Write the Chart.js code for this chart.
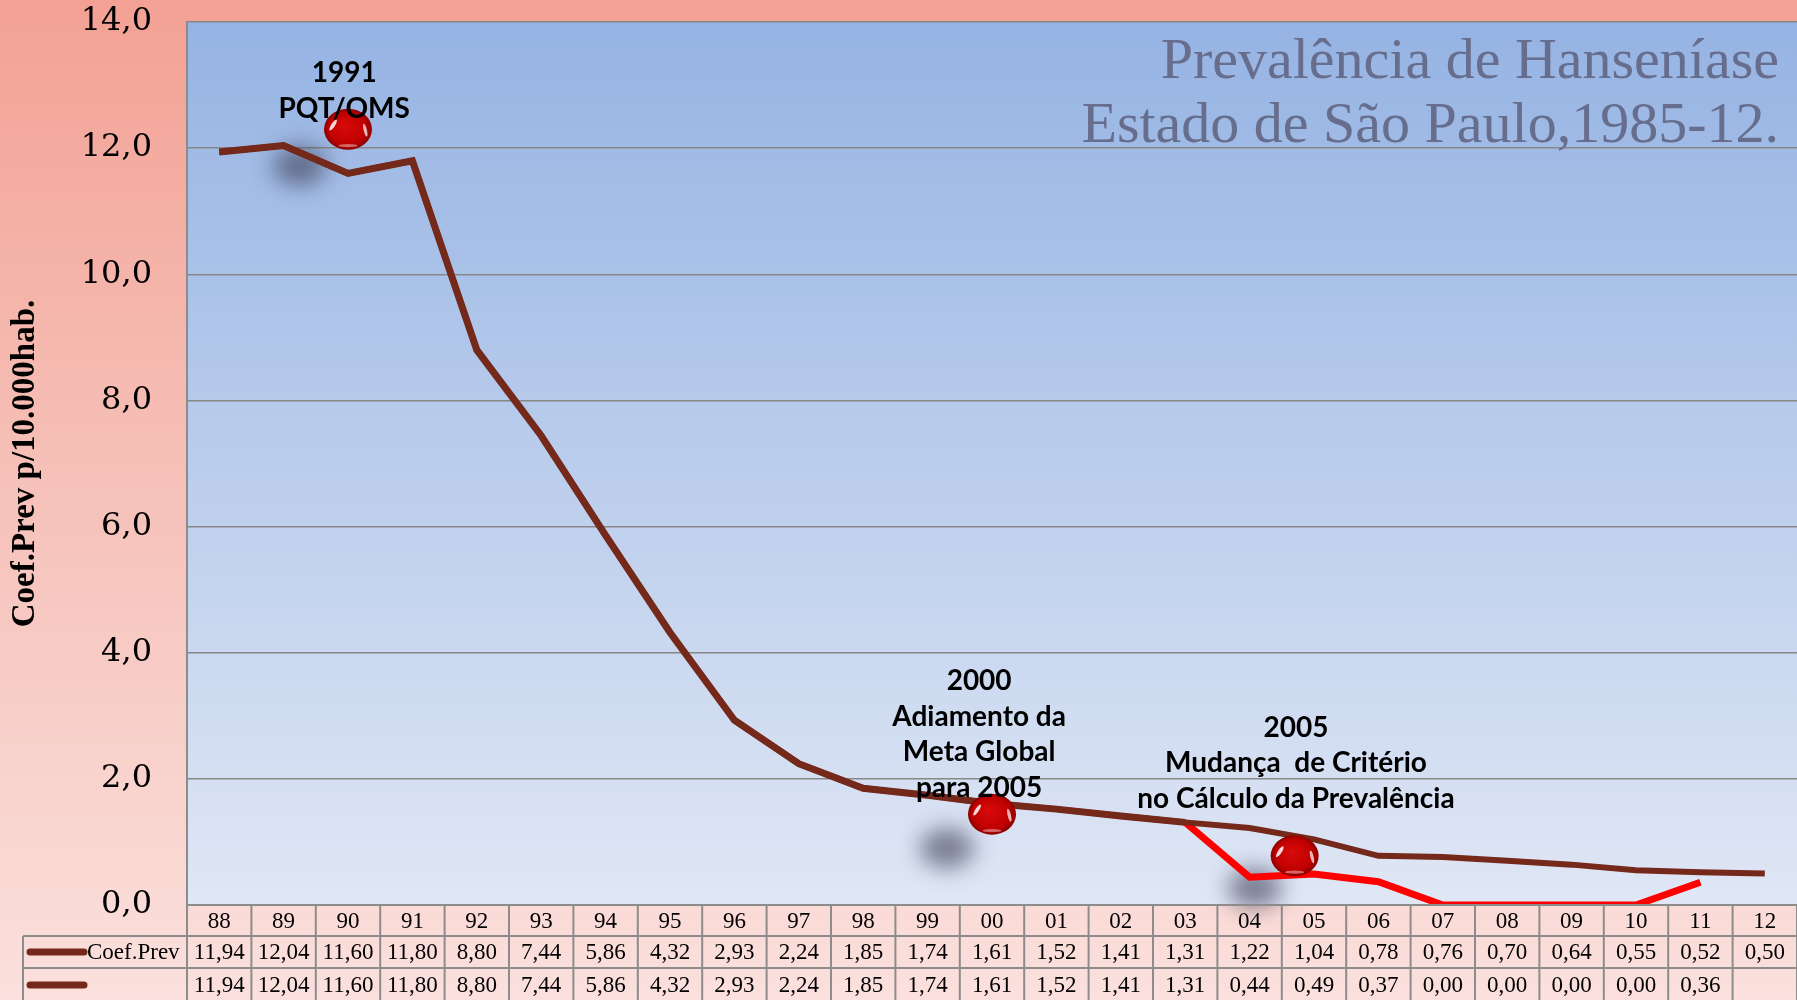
<!DOCTYPE html>
<html>
<head>
<meta charset="utf-8">
<title>Prevalência de Hanseníase – Estado de São Paulo</title>
<script src="https://cdn.jsdelivr.net/npm/chart.js@4.4.1/dist/chart.umd.min.js"></script>
<style>
  html, body { margin: 0; padding: 0; background: #f6c3bb; }
  #wrap { width: 1797px; height: 1000px; position: relative; overflow: hidden; }
  canvas { display: block; }
</style>
</head>
<body>
<div id="wrap"><canvas id="grafico" width="1797" height="1000"></canvas></div>
<script>
// Anos (1988–2012) e coeficientes de prevalência por 10.000 hab.
const anos = ['88','89','90','91','92','93','94','95','96','97','98','99','00',
              '01','02','03','04','05','06','07','08','09','10','11','12'];
const coefPrev = [11.94, 12.04, 11.60, 11.80, 8.80, 7.44, 5.86, 4.32, 2.93, 2.24, 1.85, 1.74, 1.61,
                  1.52, 1.41, 1.31, 1.22, 1.04, 0.78, 0.76, 0.70, 0.64, 0.55, 0.52, 0.50];
// Coeficiente pelo novo critério de cálculo (a partir de 2004)
const coefNovoCriterio = [11.94, 12.04, 11.60, 11.80, 8.80, 7.44, 5.86, 4.32, 2.93, 2.24, 1.85, 1.74, 1.61,
                          1.52, 1.41, 1.31, 0.44, 0.49, 0.37, 0.00, 0.00, 0.00, 0.00, 0.36, null];
const ticksY = [0, 2, 4, 6, 8, 10, 12, 14];
const tituloLinhas = ['Prevalência de Hanseníase', 'Estado de São Paulo,1985-12.'];
const tituloEixoY = 'Coef.Prev p/10.000hab.';

// Marcos históricos: esfera (índice do ano, valor), texto e sombra
const marcos = [
  { linhas: ['1991', 'PQT/OMS'], texto: [1.94, 13.19], esfera: [2.0, 12.3], sombra: [1.25, 11.72] },
  { linhas: ['2000', 'Adiamento da', 'Meta Global', 'para 2005'], texto: [11.8, 3.55], esfera: [12.0, 1.44], sombra: [11.3, 0.9] },
  { linhas: ['2005', 'Mudança  de Critério', 'no Cálculo da Prevalência'], texto: [16.72, 2.81], esfera: [16.7, 0.78], sombra: [16.08, 0.27] }
];

const MARROM = '#74291b';
const VERMELHO = '#ff0000';
const fmt = (v, d) => v.toFixed(d).replace('.', ',');

// Fundo da página e da área de plotagem
const fundo = {
  id: 'fundo',
  beforeDraw(chart) {
    const { ctx, chartArea: a, width, height } = chart;
    ctx.save();
    let g = ctx.createLinearGradient(0, 0, 0, height);
    g.addColorStop(0, '#f3a194');
    g.addColorStop(0.5, '#f6c2ba');
    g.addColorStop(1, '#fbe0dd');
    ctx.fillStyle = g;
    ctx.fillRect(0, 0, width, height);
    g = ctx.createLinearGradient(0, a.top, 0, a.bottom);
    g.addColorStop(0, '#95b3e3');
    g.addColorStop(1, '#e0e7f5');
    ctx.fillStyle = g;
    ctx.fillRect(a.left, a.top, a.right - a.left, a.bottom - a.top);
    ctx.restore();
  }
};

// Sombras dos marcos, sob as linhas
const sombras = {
  id: 'sombras',
  beforeDatasetsDraw(chart) {
    const { ctx, scales: { x, y } } = chart;
    ctx.save();
    ctx.filter = 'blur(11px)';
    ctx.fillStyle = 'rgba(60,62,85,0.62)';
    marcos.forEach(m => {
      const cx = x.getPixelForValue(m.sombra[0]);
      const cy = y.getPixelForValue(m.sombra[1]);
      ctx.beginPath();
      ctx.ellipse(cx, cy, 27, 20, 0, 0, Math.PI * 2);
      ctx.fill();
    });
    ctx.restore();
  }
};

function esfera(ctx, cx, cy, rx, ry) {
  ctx.save();
  ctx.translate(cx, cy);
  ctx.scale(1, ry / rx);
  const g = ctx.createRadialGradient(-rx * 0.15, -rx * 0.2, rx * 0.05, 0, 0, rx);
  g.addColorStop(0, '#d80a0a');
  g.addColorStop(0.75, '#c00000');
  g.addColorStop(1, '#8c0000');
  ctx.fillStyle = g;
  ctx.beginPath();
  ctx.arc(0, 0, rx, 0, Math.PI * 2);
  ctx.fill();
  // brilhos
  ctx.fillStyle = 'rgba(255,255,255,0.85)';
  ctx.beginPath();
  ctx.ellipse(-rx * 0.62, -rx * 0.2, rx * 0.08, rx * 0.3, 0.5, 0, Math.PI * 2);
  ctx.fill();
  ctx.fillStyle = 'rgba(255,255,255,0.7)';
  ctx.beginPath();
  ctx.ellipse(rx * 0.72, rx * 0.05, rx * 0.07, rx * 0.32, -0.2, 0, Math.PI * 2);
  ctx.fill();
  ctx.fillStyle = 'rgba(255,200,200,0.5)';
  ctx.beginPath();
  ctx.ellipse(0, rx * 0.8, rx * 0.4, rx * 0.08, 0, 0, Math.PI * 2);
  ctx.fill();
  ctx.restore();
}

// Esferas e textos dos marcos
const anotacoes = {
  id: 'anotacoes',
  afterDatasetsDraw(chart) {
    const { ctx, scales: { x, y } } = chart;
    ctx.save();
    marcos.forEach(m => {
      esfera(ctx, x.getPixelForValue(m.esfera[0]), y.getPixelForValue(m.esfera[1]), 24, 20.5);
    });
    ctx.fillStyle = '#000';
    ctx.font = 'bold 28px Lato';
    ctx.textAlign = 'center';
    ctx.textBaseline = 'middle';
    marcos.forEach(m => {
      const cx = x.getPixelForValue(m.texto[0]);
      const cy = y.getPixelForValue(m.texto[1]);
      m.linhas.forEach((t, i) => ctx.fillText(t, cx, cy + i * 35.5));
    });
    ctx.restore();
  }
};

// Título no canto superior direito da área de plotagem
const titulo = {
  id: 'titulo',
  afterDraw(chart) {
    const { ctx, chartArea: a } = chart;
    ctx.save();
    ctx.fillStyle = '#676d8c';
    ctx.font = '58px "Liberation Serif"';
    ctx.textAlign = 'right';
    ctx.textBaseline = 'alphabetic';
    ctx.fillText(tituloLinhas[0], a.right - 18, a.top + 56);
    ctx.fillText(tituloLinhas[1], a.right - 18, a.top + 120);
    ctx.restore();
  }
};

// Tabela de dados sob o eixo X
const tabela = {
  id: 'tabela',
  afterDraw(chart) {
    const { ctx, chartArea: a, scales: { x } } = chart;
    const n = anos.length;
    const passo = x.getPixelForValue(1) - x.getPixelForValue(0);
    const r0 = a.bottom, r1 = a.bottom + 31, r2 = a.bottom + 63, r3 = a.bottom + 97;
    const esq = 23;
    ctx.save();
    ctx.strokeStyle = '#8c8c8c';
    ctx.lineWidth = 2;
    const linha = (x1, y1, x2, y2) => { ctx.beginPath(); ctx.moveTo(x1, y1); ctx.lineTo(x2, y2); ctx.stroke(); };
    linha(a.left, r0, a.right, r0);
    linha(esq, r1, a.right, r1);
    linha(esq, r2, a.right, r2);
    linha(esq, r1, esq, r3);
    linha(a.left, a.top, a.left, r3);
    for (let i = 0; i < n; i++) {
      const xb = x.getPixelForValue(i) + passo / 2;
      linha(xb, r0, xb, r3);
    }
    // legendas das séries
    const series = chart.data.datasets;
    [[r1, r2], [r2, r3]].forEach(([t, b], k) => {
      const cy = (t + b) / 2;
      ctx.strokeStyle = series[k].borderColor;
      ctx.lineWidth = 7;
      ctx.lineCap = 'round';
      linha(30, cy, 84, cy);
      ctx.fillStyle = '#000';
      ctx.font = '23px "Liberation Serif"';
      ctx.textAlign = 'left';
      ctx.textBaseline = 'middle';
      ctx.fillText(series[k].label, 87, cy + 1);
      ctx.textAlign = 'center';
      ctx.font = '23px "Liberation Serif"';
      series[k].data.forEach((v, i) => {
        if (v === null) return;
        ctx.fillText(fmt(v, 2), x.getPixelForValue(i), cy + 1);
      });
    });
    ctx.restore();
  }
};

// Eixos com tamanho fixo: a área de plotagem ocupa 187..1797 × 22..905
function semPadding(s) {
  s.paddingTop = 0;
  s.paddingBottom = 0;
  s.paddingLeft = 0;
  s.paddingRight = 0;
}

new Chart(document.getElementById('grafico'), {
  type: 'line',
  data: {
    labels: anos,
    datasets: [
      {
        label: 'Coef.Prev',
        data: coefPrev,
        borderColor: MARROM,
        borderWidth: 6,
        pointRadius: 0,
        tension: 0
      },
      {
        label: '',
        data: coefNovoCriterio,
        borderColor: MARROM,
        borderWidth: 7,
        pointRadius: 0,
        tension: 0,
        segment: { borderColor: c => (c.p0DataIndex >= 15 ? VERMELHO : undefined) }
      }
    ]
  },
  options: {
    responsive: false,
    devicePixelRatio: 1,
    animation: false,
    layout: { autoPadding: false, padding: { top: 22, right: 0, bottom: 0, left: 0 } },
    plugins: { legend: { display: false }, tooltip: { enabled: false } },
    scales: {
      x: {
        type: 'category',
        offset: true,
        grid: { display: false, drawTicks: false },
        border: { display: false },
        ticks: {
          color: '#000',
          font: { family: 'Liberation Serif', size: 23 },
          padding: 3,
          maxRotation: 0,
          autoSkip: false
        },
        afterFit(s) { s.height = 95; semPadding(s); }
      },
      y: {
        min: 0,
        max: 14,
        afterBuildTicks(s) { s.ticks = ticksY.map(v => ({ value: v })); },
        ticks: {
          color: '#000',
          font: { family: 'DejaVu Serif', size: 32 },
          padding: 35,
          callback: v => fmt(v, 1)
        },
        grid: { color: '#878787', lineWidth: 1.5, drawTicks: false },
        border: { color: '#8c8c8c', width: 2 },
        title: {
          display: true,
          text: tituloEixoY,
          color: '#000',
          font: { family: 'Liberation Serif', size: 33, weight: 'bold' },
          padding: { top: 6, bottom: 0 }
        },
        afterFit(s) { s.width = 187; semPadding(s); }
      }
    }
  },
  plugins: [fundo, sombras, anotacoes, titulo, tabela]
});
</script>
</body>
</html>
